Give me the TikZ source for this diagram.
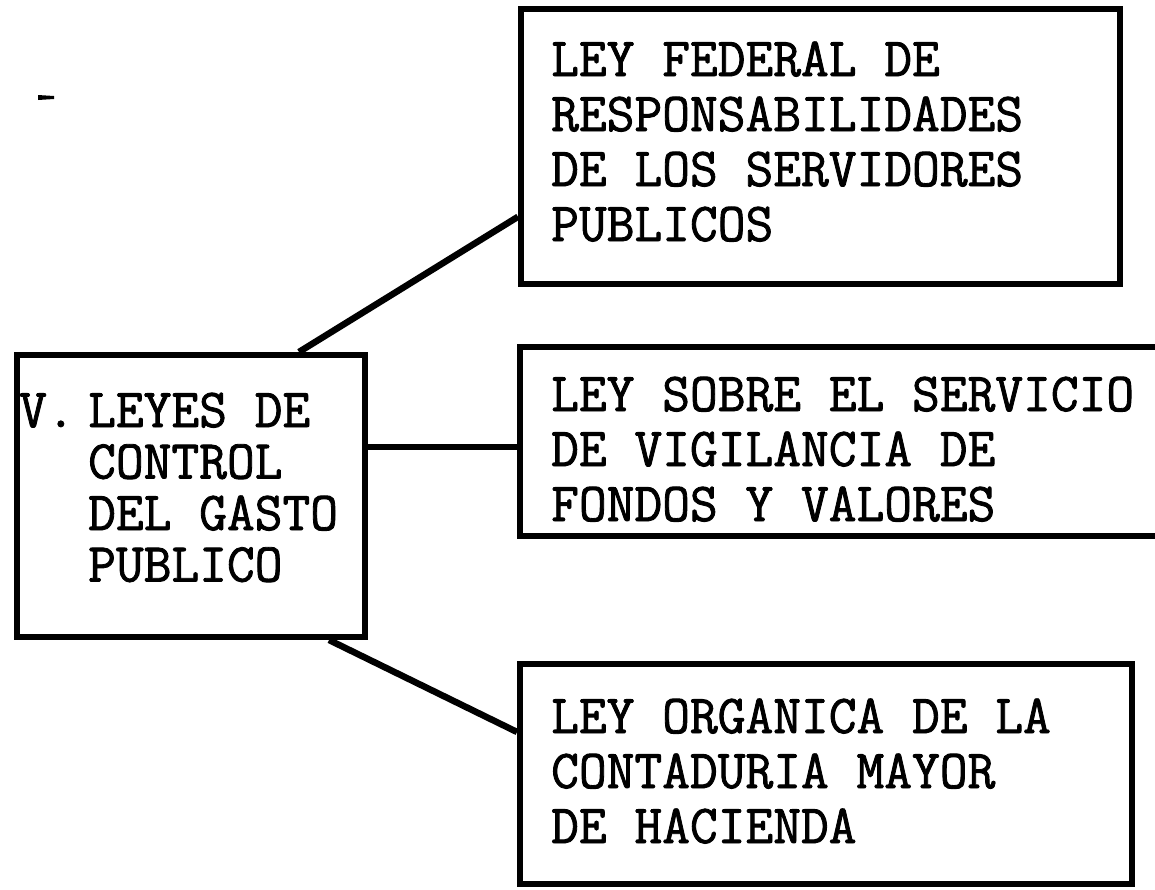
\documentclass[tikz,border=0pt]{standalone}
\usepackage{fontspec}
\usetikzlibrary{calc}
\newfontfamily\scanfont[FakeStretch=0.98,FakeBold=1.5]{Latin Modern Mono}
\begin{document}
\begin{tikzpicture}[x=1pt,y=-1pt,
  box/.style={draw, line width=6pt, rectangle, inner sep=0pt, line join=miter},
  link/.style={line width=6.5pt, line cap=butt},
  txt/.style={font={\scanfont\fontsize{55pt}{55pt}\selectfont}, anchor=base west, align=left, inner sep=0pt},
  txtl/.style={txt, font={\scanfont\fontsize{55pt}{51.5pt}\selectfont}}]
\useasboundingbox (0,0) rectangle (1155,889);
% boxes
\node[box, minimum width=348pt, minimum height=282pt] (src) at (191,496) {};
\node[box, minimum width=599pt, minimum height=275pt] (b1) at (820.5,146.5) {};
\node[box, minimum width=650pt, minimum height=189pt] (b2) at (845,441.5) {};
\node[box, minimum width=612pt, minimum height=220pt] (b3) at (826,774) {};
% texts (anchor = baseline of the last line)
\node[txt] (tv) at (19,427) {V.};
\node[txtl] (t0) at (88,581.5) {LEYES DE\\CONTROL\\DEL GASTO\\PUBLICO};
\node[txt] (t1) at (551,241) {LEY FEDERAL DE\\RESPONSABILIDADES\\DE LOS SERVIDORES\\PUBLICOS};
\node[txt] (t2) at (551,521) {LEY SOBRE EL SERVICIO\\DE VIGILANCIA DE\\FONDOS Y VALORES};
\node[txt] (t3) at (551,843) {LEY ORGANICA DE LA\\CONTADURIA MAYOR\\DE HACIENDA};
% connectors
\coordinate (m1) at ($(src.north west)!0.805!(src.north east)$);
\coordinate (m2) at ($(b1.south west)!0.25!(b1.north west)$);
\draw[link] (m1) -- (m2);
\coordinate (m3) at ($(src.south east)!0.67!(src.north east)$);
\draw[link] (m3) -- (m3 -| b2.west);
\coordinate (m4) at ($(src.south west)!0.89!(src.south east)$);
\coordinate (m5) at ($(b3.north west)!0.314!(b3.south west)$);
\draw[link] (m4) -- (m5);
% scan mark
\fill (38,95) -- (54,96) -- (54,99) -- (38,100) -- cycle;
\end{tikzpicture}
\end{document}
